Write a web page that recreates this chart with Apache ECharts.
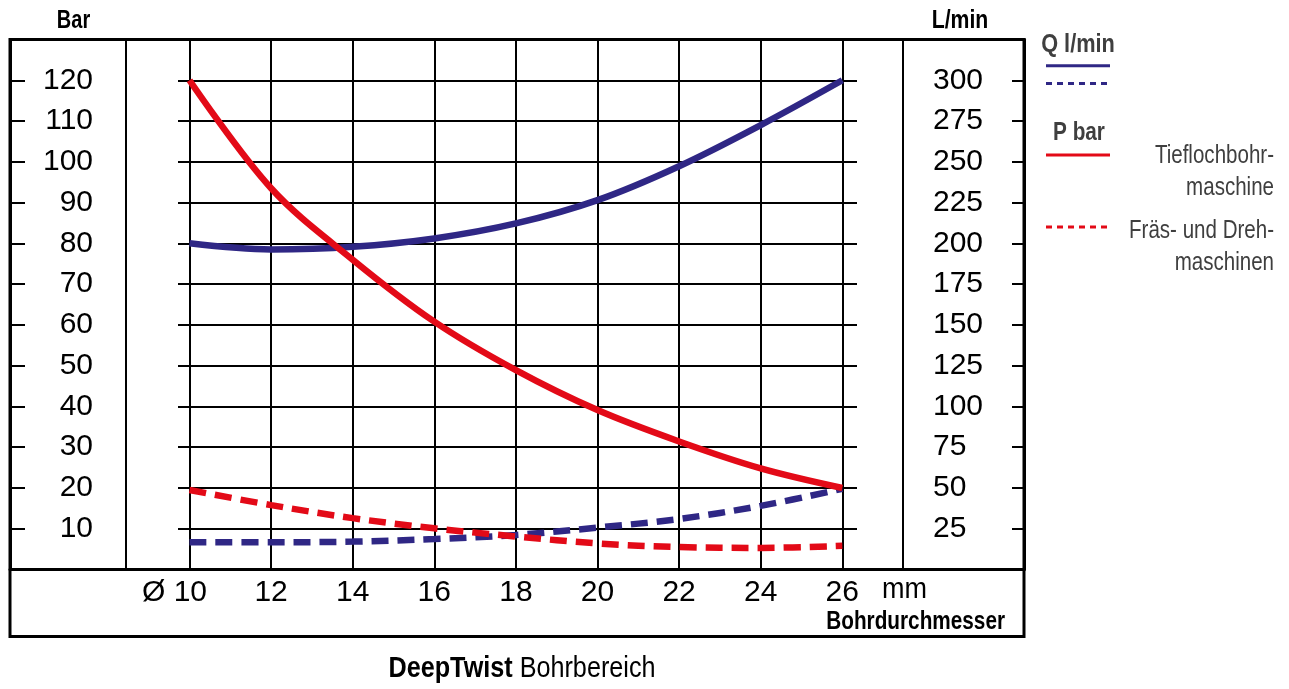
<!DOCTYPE html>
<html><head><meta charset="utf-8">
<script src="https://cdn.jsdelivr.net/npm/echarts@6/dist/echarts.min.js"></script>
<style>html,body{margin:0;padding:0;background:#fff}#c{width:1289px;height:689px}</style>
</head><body><div id="c"></div>
<script>
// ---- data ----
const diameters = [10, 12, 14, 16, 18, 20, 22, 24, 26];                  // Bohrdurchmesser, mm
const qTiefloch = [200, 196.3, 197.9, 203, 212.2, 226.5, 247.3, 272.5, 300]; // Q l/min, Tieflochbohrmaschine
const qFraesDreh = [16.7, 16.7, 17.1, 18.7, 21.2, 25.7, 31, 39, 49.5];     // Q l/min, Fräs- und Drehmaschinen
const pTiefloch = [120, 93.5, 76, 60.8, 48.9, 39.1, 31.4, 24.8, 20];       // P bar, Tieflochbohrmaschine
const pFraesDreh = [19.5, 15.8, 12.6, 10.1, 8.1, 6.4, 5.5, 5.3, 5.8];      // P bar, Fräs- und Drehmaschinen
const barRange = [0, 130], barStep = 10;
const lminRange = [0, 325], lminStep = 25;
const xRange = [10, 26], xStep = 2;

const FONT = '"Liberation Sans", Arial, sans-serif';
const RED = '#E30A17', BLUE = '#2F2785', GREY = '#3f3f3f';

const pairs = ys => diameters.map((d, i) => [d, ys[i]]);
const hidden = g => ({ type: 'value', gridIndex: g, show: false, min: 0, max: 1 });
const txt = (x, y, text, font, align, sx, extra) => Object.assign({
  type: 'text', x: x, y: y, scaleX: sx,
  style: Object.assign({ text: text, font: font, fill: '#000', align: align, verticalAlign: 'middle' }, extra || {})
});

const chart = echarts.init(document.getElementById('c'), null, { renderer: 'canvas' });
chart.setOption({
  animation: false,
  backgroundColor: '#fff',
  grid: [
    { left: 10, top: 39.5, width: 1014, height: 530 },                       // 0 frame with y axes
    { left: 178, top: 39.5, width: 679, height: 530 },                       // 1 horizontal grid lines
    { left: 189.5, top: 39.5, width: 652.8, height: 530 },                   // 2 data grid
    { left: 10, top: 39.5, width: 1014, height: 597, show: true, borderColor: '#000', borderWidth: 3, backgroundColor: 'transparent' }, // 3 outer box
    { left: 126, top: 39.5, width: 777, height: 530, show: true, borderColor: '#000', borderWidth: 2, backgroundColor: 'transparent' }  // 4 dividers
  ],
  xAxis: [
    { type: 'value', gridIndex: 0, min: 0, max: 1, axisLine: { show: true, lineStyle: { color: '#000', width: 3 } },
      axisTick: { show: false }, axisLabel: { show: false }, splitLine: { show: false } },
    hidden(1),
    { type: 'value', gridIndex: 2, min: xRange[0], max: xRange[1], interval: xStep,
      axisLine: { show: false }, axisTick: { show: false },
      splitLine: { show: true, lineStyle: { color: '#000', width: 2 } },
      axisLabel: { fontFamily: FONT, fontSize: 30, color: '#000', margin: 8,
        formatter: v => v === 10 ? '{o|Ø }10{s|}' : String(v),
        rich: { o: { fontFamily: FONT, fontSize: 30, color: '#000' }, s: { width: 30 } } } },
    hidden(3),
    hidden(4)
  ],
  yAxis: [
    { type: 'value', gridIndex: 0, position: 'left', min: barRange[0], max: barRange[1], interval: barStep,
      axisLine: { show: true, lineStyle: { color: '#000', width: 3 } },
      axisTick: { show: true, inside: true, length: 15, lineStyle: { color: '#000', width: 2 } },
      splitLine: { show: false },
      axisLabel: { inside: true, align: 'right', margin: 83, fontFamily: FONT, fontSize: 30, color: '#000',
        formatter: v => (v > barRange[0] && v < barRange[1]) ? String(v) : '' } },
    { type: 'value', gridIndex: 0, position: 'right', min: lminRange[0], max: lminRange[1], interval: lminStep,
      axisLine: { show: true, lineStyle: { color: '#000', width: 3 } },
      axisTick: { show: true, inside: true, length: 12, lineStyle: { color: '#000', width: 2 } },
      splitLine: { show: false },
      axisLabel: { inside: true, align: 'left', margin: 91, fontFamily: FONT, fontSize: 30, color: '#000',
        formatter: v => (v > lminRange[0] && v < lminRange[1]) ? String(v) : '' } },
    { type: 'value', gridIndex: 1, min: barRange[0], max: barRange[1], interval: barStep,
      axisLine: { show: false }, axisTick: { show: false }, axisLabel: { show: false },
      splitLine: { show: true, lineStyle: { color: '#000', width: 2 } } },
    { type: 'value', gridIndex: 2, position: 'left', min: barRange[0], max: barRange[1], interval: barStep,
      axisLine: { show: false }, axisTick: { show: false }, axisLabel: { show: false }, splitLine: { show: false } },
    { type: 'value', gridIndex: 2, position: 'right', min: lminRange[0], max: lminRange[1], interval: lminStep,
      axisLine: { show: false }, axisTick: { show: false }, axisLabel: { show: false }, splitLine: { show: false } },
    hidden(3),
    hidden(4)
  ],
  series: [
    { name: 'Q l/min – Tieflochbohrmaschine', type: 'line', xAxisIndex: 2, yAxisIndex: 4, data: pairs(qTiefloch),
      smooth: 0.35, symbol: 'none', clip: false, z: 5, lineStyle: { color: BLUE, width: 6.5 } },
    { name: 'Q l/min – Fräs- und Drehmaschinen', type: 'line', xAxisIndex: 2, yAxisIndex: 4, data: pairs(qFraesDreh),
      smooth: 0.35, symbol: 'none', clip: false, z: 5, lineStyle: { color: BLUE, width: 6.5, type: [17, 9] } },
    { name: 'P bar – Tieflochbohrmaschine', type: 'line', xAxisIndex: 2, yAxisIndex: 3, data: pairs(pTiefloch),
      smooth: 0.35, symbol: 'none', clip: false, z: 6, lineStyle: { color: RED, width: 6.5 } },
    { name: 'P bar – Fräs- und Drehmaschinen', type: 'line', xAxisIndex: 2, yAxisIndex: 3, data: pairs(pFraesDreh),
      smooth: 0.35, symbol: 'none', clip: false, z: 6, lineStyle: { color: RED, width: 6.5, type: [17, 9] } }
  ],
  graphic: [
    txt(73.5, 21, 'Bar', 'bold 25px ' + FONT, 'center', 0.8),
    txt(960, 21.5, 'L/min', 'bold 25px ' + FONT, 'center', 0.85),
    txt(882, 590, 'mm', '30px ' + FONT, 'left', 0.9),
    txt(1005, 622, 'Bohrdurchmesser', 'bold 25px ' + FONT, 'right', 0.83),
    txt(522, 669, '{b|DeepTwist} Bohrbereich', '30px ' + FONT, 'center', 0.84,
      { rich: { b: { fontWeight: 'bold', fontSize: 30, fontFamily: FONT, fill: '#000' } } }),
    // legend
    txt(1078, 45.5, 'Q l/min', 'bold 25px ' + FONT, 'center', 0.87, { fill: GREY }),
    { type: 'line', shape: { x1: 1046, y1: 65.7, x2: 1110, y2: 65.7 }, style: { stroke: BLUE, lineWidth: 3 } },
    { type: 'line', shape: { x1: 1046, y1: 83.5, x2: 1110, y2: 83.5 }, style: { stroke: BLUE, lineWidth: 3, lineDash: [6, 5] } },
    txt(1079, 133.5, 'P bar', 'bold 25px ' + FONT, 'center', 0.83, { fill: GREY }),
    { type: 'line', shape: { x1: 1046, y1: 155, x2: 1110, y2: 155 }, style: { stroke: RED, lineWidth: 3 } },
    { type: 'line', shape: { x1: 1046, y1: 227, x2: 1110, y2: 227 }, style: { stroke: RED, lineWidth: 3, lineDash: [6, 5] } },
    txt(1274, 172, 'Tieflochbohr-\nmaschine', '26px ' + FONT, 'right', 0.79, { fill: GREY, lineHeight: 32 }),
    txt(1274, 247, 'Fräs- und Dreh-\nmaschinen', '26px ' + FONT, 'right', 0.79, { fill: GREY, lineHeight: 32 })
  ]
});
</script>
</body></html>
